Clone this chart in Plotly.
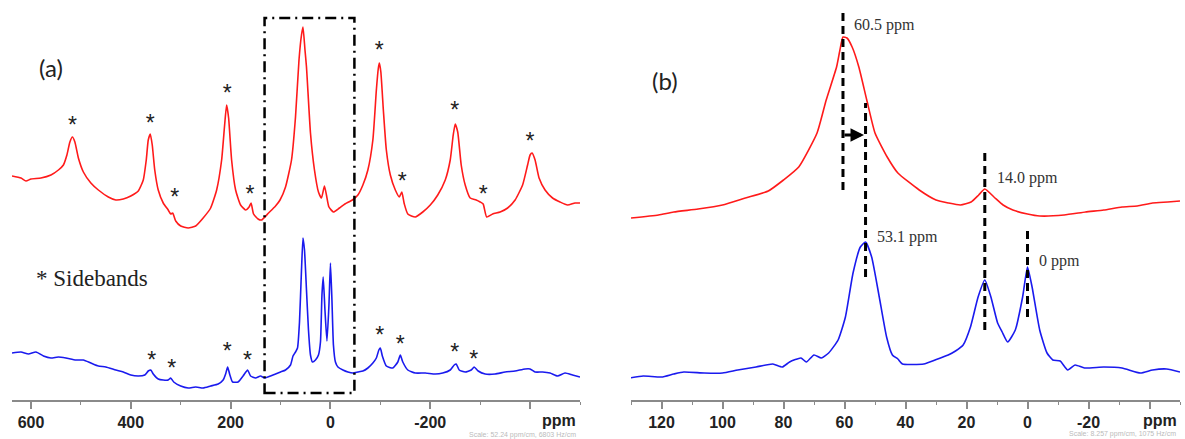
import plotly.graph_objects as go

# ---------------- Panel (a): full spectra (ppm, intensity a.u.) ----------------
red_a_ppm = [638, 620, 610, 600, 580, 560, 545, 535, 528, 522, 517, 512, 505, 495, 480, 465, 445, 430,
             415, 400, 385, 375, 369, 365, 361, 357, 352, 345, 335, 325, 320, 316, 310, 300, 285, 270,
             255, 240, 228, 218, 212, 208, 204, 198, 190, 180, 170, 163, 159, 154, 145, 138, 124, 110,
             101, 90, 78, 70, 63, 58, 55, 51, 48, 40, 32, 24, 18, 12, 8, 3, -6, -18, -29, -44, -55, -65,
             -75, -85, -92, -96, -98, -101, -106, -112, -120, -130, -138, -143, -148, -155, -170, -185,
             -200, -215, -230, -240, -246, -250, -255, -262, -270, -280, -292, -300, -306, -313, -325,
             -340, -355, -370, -385, -395, -400, -404, -410, -418, -430, -445, -460, -475, -490, -500]
red_a_int = [224, 222, 219, 221, 222, 225, 230, 235, 245, 258, 263, 258, 242, 228, 217, 210, 203, 200,
             201, 204, 209, 220, 240, 260, 266, 255, 230, 210, 197, 190, 186, 187, 179, 174, 172, 174,
             182, 192, 210, 240, 275, 295, 282, 240, 210, 195, 190, 193, 197, 186, 181, 180, 187, 194,
             200, 213, 240, 283, 340, 365, 373, 350, 333, 267, 230, 208, 202, 214, 205, 193, 188, 192,
             196, 200, 205, 215, 230, 260, 310, 332, 337, 328, 290, 250, 225, 210, 203, 208, 196, 186,
             183, 188, 195, 205, 220, 240, 265, 276, 268, 235, 215, 202, 200, 198, 196, 183, 186, 188,
             192, 200, 215, 235, 245, 247, 240, 222, 210, 202, 198, 195, 197, 197]

blue_a_ppm = [638, 620, 605, 590, 575, 560, 545, 530, 510, 495, 480, 465, 450, 430, 415, 400, 385, 372,
              365, 360, 355, 345, 335, 325, 320, 314, 300, 285, 270, 255, 240, 225, 215, 210, 206, 202,
              196, 185, 175, 166, 160, 150, 140, 132, 120, 110, 100, 90, 80, 75, 70, 66, 62, 58, 55, 52,
              48, 44, 40, 36, 30, 24, 20, 17, 14.5, 11, 7, 3, 0, -3, -6, -10, -15, -25, -35, -45, -55,
              -65, -75, -85, -92, -97, -100, -104, -112, -125, -135, -140, -145, -155, -170, -190, -210,
              -225, -240, -248, -252, -258, -270, -282, -288, -296, -310, -330, -350, -370, -390, -400,
              -410, -425, -440, -455, -470, -485, -500]
blue_a_int = [47, 48, 46, 48, 44, 42, 43, 42, 40, 40, 37, 34, 33, 30, 28, 25, 24, 25,
              29, 30, 26, 21, 20, 20, 22, 18, 14, 12, 13, 12, 14, 16, 20, 26, 33, 26,
              18, 18, 24, 30, 24, 22, 24, 22, 24, 26, 28, 30, 35, 44, 48, 52, 78, 130, 162, 150,
              110, 70, 45, 38, 40, 45, 58, 105, 123, 90, 59, 95, 137, 100, 55, 38, 33, 30, 28, 27, 28,
              29, 32, 37, 42, 50, 52, 44, 34, 32, 38, 45, 38, 30, 27, 27, 26,
              27, 30, 35, 36, 30, 28, 30, 33, 29, 26, 26, 28, 29, 31, 31,
              28, 28, 27, 24, 27, 25, 23]

# spinning sidebands marked with "*" (ppm, intensity of the mark)
star_red_ppm = [517, 361, 312, 207, 161, -98, -144, -249, -306, -400]
star_red_int = [273, 275, 201, 305, 204, 348, 217, 288, 204, 257]
star_blue_ppm = [358, 318, 207, 166, -99, -140, -249, -287]
star_blue_int = [38, 30, 47, 38, 63, 54, 46, 39]

# ---------------- Panel (b): expanded region ----------------
red_b_ppm = [130, 121, 116, 108, 100, 92.5, 85, 80, 75, 69, 66, 62.6, 61.5, 60.5, 59.2, 57.5, 55.3, 52.7,
             50, 46, 42.5, 35.5, 30, 26, 22, 18.5, 16, 14, 11, 8, 4.8, 0, -4, -12, -19, -25, -31, -36, -41,
             -46, -50]
red_b_int = [182, 185, 188, 191, 195, 202, 209, 220, 233, 267, 300, 333, 350, 363, 362, 353, 333, 300,
             267, 243, 227, 210, 200, 197, 195, 198, 205, 211, 203, 195, 190, 186, 184, 185, 188, 190, 193,
             194, 197, 198, 199]

blue_b_ppm = [130.4, 126, 120, 116, 112.7, 106, 100, 95, 89, 83.5, 80.4, 78, 74.3, 72.5, 70, 67.6, 65.2,
              62.1, 59.7, 57.2, 54.8, 53.1, 51.1, 48.6, 46.2, 44.3, 42.5, 41, 34, 30.3, 26, 23.6, 21.1,
              18.7, 16.2, 14, 12, 9.8, 8.3, 6.5, 4, 1.6, 0, -1.5, -4, -6.4, -8.3, -10.7, -13.2, -15.6,
              -18.7, -25, -31, -37, -41, -45.6, -50]
blue_b_int = [22, 24, 23, 26, 28, 27, 27, 30, 33, 36, 33, 38, 42, 38, 45, 42, 47,
              60, 83, 127, 153, 158, 143, 103, 63, 45, 41, 36, 36, 40, 45, 49, 55,
              73, 103, 120, 103, 77, 68, 58, 70, 103, 133, 113, 70, 47, 40, 39, 30, 35,
              32, 33, 32, 27, 30, 31, 28]

# reference lines (ppm, from intensity, to intensity)
mark_ppm = [60.5, 53.1, 14.0, 0.0]
mark_lo = [210, 123, 70, 83]
mark_hi = [388, 297, 247, 170]
mark_labels = ["60.5 ppm", "53.1 ppm", "14.0 ppm", "0 ppm"]
label_ppm = [57.5, 50, 10.7, -3]
label_int = [375, 163, 222, 139]

ticks_a = [600, 400, 200, 0, -200, -400]
ticktext_a = ["600", "400", "200", "0", "-200", ""]
ticks_b = [120, 100, 80, 60, 40, 20, 0, -20, -40]
ticktext_b = ["120", "100", "80", "60", "40", "20", "0", "-20", ""]

W, H = 1185, 439
RED = "#ff1a1a"
BLUE = "#1a1aee"
SPL = dict(shape="spline", smoothing=0.5)

fig = go.Figure()
fig.add_trace(go.Scatter(x=red_a_ppm, y=red_a_int, mode="lines", line=dict(color=RED, width=1.6, **SPL),
                         xaxis="x", yaxis="y", showlegend=False))
fig.add_trace(go.Scatter(x=blue_a_ppm, y=blue_a_int, mode="lines", line=dict(color=BLUE, width=1.6, **SPL),
                         xaxis="x", yaxis="y", showlegend=False))
fig.add_trace(go.Scatter(x=star_red_ppm + star_blue_ppm, y=star_red_int + star_blue_int, mode="text",
                         text=["*"] * (len(star_red_ppm) + len(star_blue_ppm)),
                         textfont=dict(family="Liberation Sans", size=23, color="#222"),
                         textposition="middle center", xaxis="x", yaxis="y", showlegend=False))
fig.add_trace(go.Scatter(x=red_b_ppm, y=red_b_int, mode="lines", line=dict(color=RED, width=1.6, **SPL),
                         xaxis="x2", yaxis="y2", showlegend=False))
fig.add_trace(go.Scatter(x=blue_b_ppm, y=blue_b_int, mode="lines", line=dict(color=BLUE, width=1.6, **SPL),
                         xaxis="x2", yaxis="y2", showlegend=False))

# dash-dot box around the expanded region
fig.add_shape(type="rect", xref="x", yref="y", x0=132, x1=-48, y0=7, y1=382,
              line=dict(color="black", width=2.5, dash="11px,5px,2px,5px"))

# dashed marker lines in panel b
for p, lo, hi in zip(mark_ppm, mark_lo, mark_hi):
    fig.add_shape(type="line", xref="x2", yref="y2", x0=p, x1=p, y0=lo, y1=hi,
                  line=dict(color="black", width=3, dash="8px,5px"))
for t, p, v in zip(mark_labels, label_ppm, label_int):
    fig.add_annotation(xref="x2", yref="y2", x=p, y=v, text=t, showarrow=False, xanchor="left",
                       yanchor="middle", font=dict(family="Liberation Serif", size=16, color="#333"))

# shift arrow
fig.add_annotation(xref="x2", yref="y2", axref="x2", ayref="y2", x=53.6, y=265, ax=60.5, ay=265,
                   text="", showarrow=True, arrowhead=2, arrowsize=0.9, arrowwidth=3, arrowcolor="black")

# panel labels & notes
fig.add_annotation(xref="paper", yref="paper", x=37 / W, y=1 - 51 / H, text="(a)", showarrow=False,
                   xanchor="left", yanchor="top",
                   font=dict(family="Lato", size=24, color="#222"))
fig.add_annotation(xref="paper", yref="paper", x=650 / W, y=1 - 64 / H, text="(b)", showarrow=False,
                   xanchor="left", yanchor="top",
                   font=dict(family="Lato", size=24, color="#222"))
fig.add_annotation(xref="paper", yref="paper", x=34 / W, y=1 - 278 / H, text="* Sidebands",
                   showarrow=False, xanchor="left",
                   font=dict(family="Liberation Serif", size=23, color="#222"))
for xr, txt in [(578, "ppm"), (1179, "ppm")]:
    fig.add_annotation(xref="paper", yref="paper", x=xr / W, y=1 - 420 / H, text=txt, showarrow=False,
                       xanchor="right", yanchor="middle",
                       font=dict(family="Liberation Sans", size=16, color="#222", weight="bold"))
for xr, yr, txt in [(578, 435, "Scale: 52.24 ppm/cm, 6803 Hz/cm"), (1178, 434, "Scale: 8.257 ppm/cm, 1075 Hz/cm")]:
    fig.add_annotation(xref="paper", yref="paper", x=xr / W, y=1 - yr / H, text=txt, showarrow=False,
                       xanchor="right", yanchor="middle",
                       font=dict(family="Liberation Sans", size=7, color="#bbbbbb"))

axis_common = dict(showgrid=False, zeroline=False, showline=True, linecolor="#8a8a8a", linewidth=1.5,
                   ticks="outside", ticklen=7, tickwidth=1.5, tickcolor="#8a8a8a",
                   tickfont=dict(family="Liberation Sans", size=16, color="#222", weight="bold"))

fig.update_layout(
    width=W, height=H, margin=dict(l=0, r=0, t=0, b=0),
    paper_bgcolor="white", plot_bgcolor="white",
    xaxis=dict(domain=[12 / W, 580 / W], range=[638, -500], tickvals=ticks_a, ticktext=ticktext_a,
               minor=dict(dtick=100, tick0=0, ticks="outside", ticklen=3, tickcolor="#8a8a8a", tickwidth=1),
               anchor="y", **axis_common),
    yaxis=dict(domain=[39 / H, 1], range=[0, 400], visible=False),
    xaxis2=dict(domain=[631 / W, 1180 / W], range=[130, -50], tickvals=ticks_b, ticktext=ticktext_b,
                minor=dict(dtick=10, tick0=0, ticks="outside", ticklen=3, tickcolor="#8a8a8a", tickwidth=1),
                anchor="y2", **axis_common),
    yaxis2=dict(domain=[39 / H, 1], range=[0, 400], visible=False),
)

fig.write_html("out.html")
